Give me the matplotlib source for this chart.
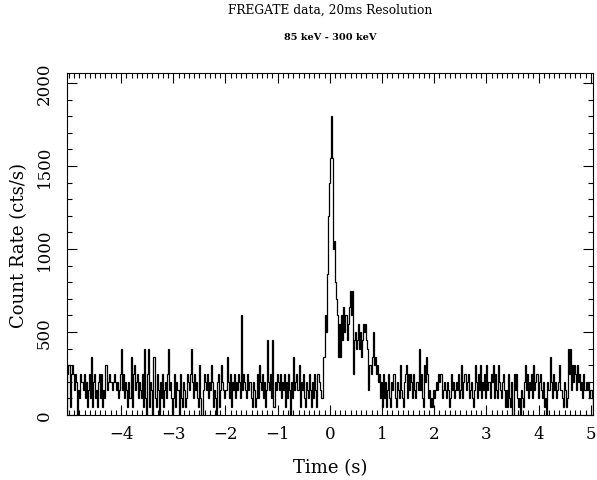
import numpy as np
import matplotlib
matplotlib.use('Agg')
import matplotlib.pyplot as plt
from matplotlib.ticker import MultipleLocator, FixedLocator

# count rate (cts/s) in 20 ms bins, one list per second
lead_in = [250, 300]  # -5.04 .. -5.00
rate_m5 = [300, 50, 250, 300, 250, 150, 250, 200, 0, 150,
           100, 250, 200, 150, 250, 100, 200, 50, 150, 250,
           100, 350, 50, 200, 250, 100, 150, 50, 200, 250,
           100, 250, 50, 150, 100, 300, 150, 200, 250, 200,
           200, 150, 200, 250, 200, 150, 200, 100, 150, 250]
rate_m4 = [400, 150, 250, 100, 200, 150, 50, 200, 100, 350,
           50, 250, 300, 150, 200, 250, 100, 200, 150, 100,
           250, 50, 400, 100, 0, 250, 400, 50, 200, 150,
           0, 350, 100, 50, 250, 150, 0, 200, 100, 250,
           50, 150, 200, 100, 250, 400, 150, 200, 100, 0]
rate_m3 = [100, 250, 50, 200, 150, 0, 250, 100, 50, 200,
           150, 50, 100, 250, 200, 150, 250, 400, 200, 100,
           250, 150, 200, 100, 50, 300, 100, 0, 150, 250,
           200, 150, 250, 100, 200, 150, 300, 200, 50, 150,
           100, 0, 200, 250, 50, 150, 300, 200, 150, 100]
rate_m2 = [150, 350, 200, 100, 250, 50, 200, 150, 250, 100,
           200, 150, 250, 200, 100, 600, 150, 250, 200, 150,
           100, 250, 150, 200, 100, 50, 200, 150, 50, 100,
           250, 100, 300, 200, 150, 250, 100, 200, 50, 150,
           450, 200, 150, 250, 100, 450, 50, 200, 150, 250]
rate_m1 = [200, 150, 250, 100, 200, 150, 250, 50, 200, 100,
           250, 150, 0, 200, 100, 350, 150, 200, 250, 150,
           300, 50, 200, 150, 250, 100, 50, 200, 150, 100,
           250, 150, 50, 200, 100, 250, 150, 50, 250, 250,
           200, 150, 100, 350, 350, 600, 500, 850, 1200, 1400]
rate_0 = [1550, 1800, 1550, 1000, 1050, 800, 700, 600, 350, 550,
          350, 600, 450, 650, 500, 600, 450, 550, 650, 750,
          600, 750, 250, 450, 500, 400, 450, 550, 400, 500,
          350, 450, 550, 500, 550, 450, 400, 150, 300, 250,
          350, 500, 300, 350, 250, 300, 200, 250, 100, 200]
rate_1 = [50, 250, 100, 200, 50, 150, 250, 100, 50, 200,
          150, 250, 100, 50, 200, 150, 100, 300, 150, 100,
          50, 200, 250, 300, 100, 250, 150, 250, 200, 100,
          250, 150, 100, 200, 150, 400, 150, 250, 100, 50,
          300, 200, 350, 250, 100, 150, 50, 100, 50, 150]
rate_2 = [100, 150, 200, 150, 250, 200, 250, 100, 150, 200,
          150, 100, 200, 150, 50, 100, 250, 150, 200, 100,
          150, 200, 150, 250, 100, 150, 300, 100, 200, 250,
          150, 200, 250, 100, 150, 200, 100, 50, 150, 300,
          200, 100, 250, 150, 300, 100, 200, 150, 250, 100]
rate_3 = [300, 150, 200, 100, 250, 200, 300, 100, 250, 150,
          100, 300, 200, 150, 100, 200, 250, 150, 50, 150,
          50, 250, 100, 50, 200, 0, 250, 150, 250, 100,
          50, 100, 0, 150, 100, 50, 200, 300, 150, 250,
          100, 200, 150, 250, 100, 300, 150, 200, 250, 100]
rate_4 = [200, 250, 150, 100, 200, 50, 100, 0, 200, 150,
          150, 350, 200, 100, 250, 150, 200, 100, 150, 200,
          300, 150, 100, 50, 200, 150, 50, 100, 400, 250,
          400, 150, 300, 200, 300, 250, 150, 300, 200, 250,
          150, 200, 100, 250, 150, 200, 150, 200, 100, 150]
tail = [150, 100]  # 5.00 .. 5.04

x_ticks = [-4, -3, -2, -1, 0, 1, 2, 3, 4, 5]

rates = np.array(lead_in + rate_m5 + rate_m4 + rate_m3 + rate_m2 + rate_m1
                 + rate_0 + rate_1 + rate_2 + rate_3 + rate_4 + tail, dtype=float)
bin_width = 0.02
edges = -5.04 + bin_width * np.arange(len(rates) + 1)

plt.rcParams['font.family'] = 'DejaVu Serif'

fig = plt.figure(figsize=(5.97, 4.81), dpi=100)
ax = fig.add_axes([0.112, 0.135, 0.881, 0.711])

ax.stairs(rates, edges, color='black', linewidth=0.9)

ax.set_xlim(-5.04, 5.04)
ax.set_ylim(0, 2060)

ax.xaxis.set_major_locator(FixedLocator(x_ticks))
ax.xaxis.set_minor_locator(MultipleLocator(0.1))
ax.yaxis.set_major_locator(MultipleLocator(500))
ax.yaxis.set_minor_locator(MultipleLocator(100))
ax.tick_params(which='both', direction='in', top=True, right=True, width=0.8)
ax.tick_params(which='major', length=7, labelsize=12)
ax.tick_params(axis='x', which='major', pad=7)
ax.tick_params(axis='y', which='major', pad=10)
ax.tick_params(which='minor', length=3.5)
for lab in ax.get_yticklabels():
    lab.set_rotation(90)
    lab.set_va('center')
for s in ax.spines.values():
    s.set_linewidth(0.8)

ax.set_xlabel('Time (s)', fontsize=13, labelpad=12)
ax.set_ylabel('Count Rate (cts/s)', fontsize=13, labelpad=6)

fig.text(0.553, 0.979, 'FREGATE data, 20ms Resolution', ha='center', va='center',
         fontsize=8.8)
fig.text(0.553, 0.921, '85 keV - 300 keV', ha='center', va='center',
         fontsize=7, fontweight='bold')

fig.savefig('out.png', dpi=100)
